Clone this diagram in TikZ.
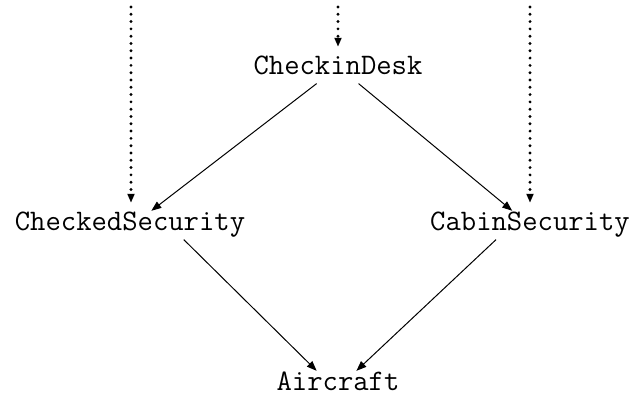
\documentclass[tikz,border=0pt]{standalone}
\usetikzlibrary{arrows.meta}
\tikzset{
  stage/.style={
    font=\ttfamily\fontsize{14.9}{18}\selectfont,
    anchor=base,
    text height=7.4pt,
    text depth=1.6pt,
    inner sep=2.5pt
  },
  handoff/.style={-{Triangle[length=5pt,width=3.8pt]}, line width=0.5pt},
  arrival/.style={
    -{Triangle[length=4.5pt,width=3.4pt]},
    line width=1.6pt,
    line cap=round,
    dash pattern=on 0pt off 3.65pt,
    shorten >=4pt
  }
}

\begin{document}
\begin{tikzpicture}[x=0.5pt,y=-0.5pt]
  \useasboundingbox (0,0) rectangle (633,401);

  % stages, placed on their baselines
  \node[stage] (desk) at (338,75) {CheckinDesk};
  \node[stage] (checked) at (130,231) {CheckedSecurity};
  \node[stage] (cabin) at (530,231) {CabinSecurity};
  \node[stage] (aircraft) at (338,391) {Aircraft};

  % incoming passengers from above
  \coordinate (inL) at (131,7);
  \coordinate (inM) at (338,7);
  \coordinate (inR) at (530,7);
  \draw[arrival] (inL) -- (inL |- checked.north);
  \draw[arrival] (inM) -- (inM |- desk.north);
  \draw[arrival] (inR) -- (inR |- cabin.north);

  % handoffs between stages
  \draw[handoff] (desk.214) -- (checked.34);
  \draw[handoff] (desk.-35) -- (cabin.141);
  \draw[handoff] (checked.-15) -- (aircraft.146);
  \draw[handoff] (cabin.203) -- (aircraft.38);
\end{tikzpicture}
\end{document}
